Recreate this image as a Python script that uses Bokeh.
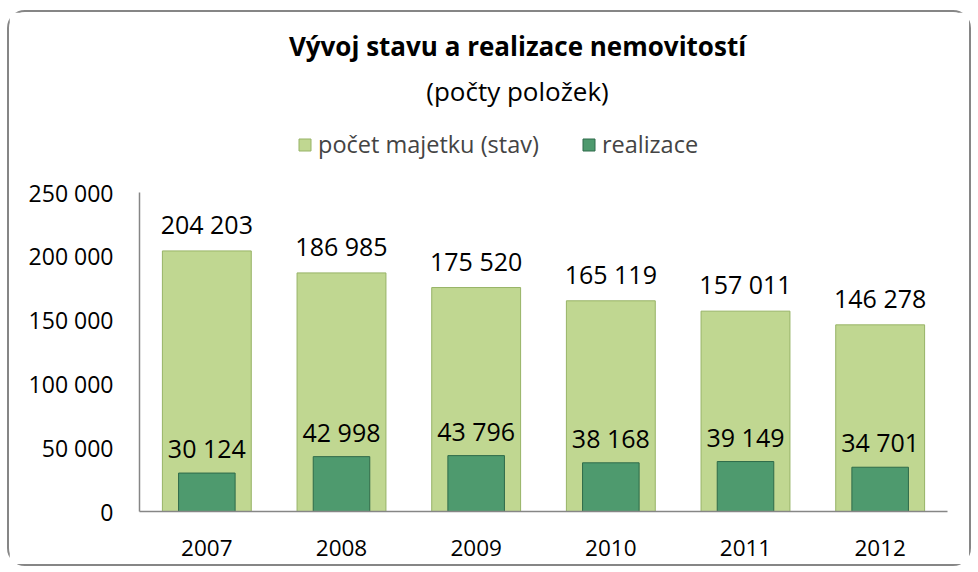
from bokeh.plotting import figure
from bokeh.models import ColumnDataSource, Legend, LegendItem, Label, LabelSet, FixedTicker, FactorRange
from bokeh.core.properties import value
from bokeh.embed import file_html
from bokeh.resources import INLINE

years = ["2007", "2008", "2009", "2010", "2011", "2012"]
stav = [204203, 186985, 175520, 165119, 157011, 146278]
realizace = [30124, 42998, 43796, 38168, 39149, 34701]
y_ticks = [0, 50000, 100000, 150000, 200000, 250000]
y_tick_labels = ["0", "50 000", "100 000", "150 000", "200 000", "250 000"]
title_text = "Vývoj stavu a realizace nemovitostí"
subtitle_text = "(počty položek)"
series_names = ["počet majetku (stav)", "realizace"]

def fmt(v):
    return f"{v:,}".replace(",", " ")

src = ColumnDataSource(dict(
    years=years, stav=stav, realizace=realizace,
    stav_lbl=[fmt(v) for v in stav], real_lbl=[fmt(v) for v in realizace],
))

FONT = "Open Sans"
W, H = 964, 556
B_LEFT, B_RIGHT, B_BOTTOM = 130, 26, 57
FRAME_H = H - B_BOTTOM
AXIS_PX = 319  # pixel height of 0..250000
y_end = y_ticks[-1] * FRAME_H / AXIS_PX

p = figure(x_range=FactorRange(*years), y_range=(0, y_end), width=W, height=H,
           output_backend="svg", toolbar_location=None, title=None,
           min_border_left=B_LEFT, min_border_right=B_RIGHT, min_border_bottom=B_BOTTOM,
           min_border_top=0)
p.styles = {"border": "2px solid #868686", "border-radius": "18px",
            "margin": "10px 0 0 7px"}
p.outline_line_color = None
p.xgrid.grid_line_color = None
p.ygrid.grid_line_color = None
p.x_range.range_padding = 0

r1 = p.vbar(x="years", top="stav", width=0.66, source=src, fill_color="#c0d791",
            line_color="#97b366", line_width=1)
r2 = p.vbar(x="years", top="realizace", width=0.42, source=src, fill_color="#4e9a6e",
            line_color="#2f6b4a", line_width=1)

p.add_layout(LabelSet(x="years", y="stav", text="stav_lbl", source=src, y_offset=10,
                      text_align="center", text_baseline="bottom", text_font=value(FONT),
                      text_font_size="25px", text_color="#000000"))
p.add_layout(LabelSet(x="years", y="realizace", text="real_lbl", source=src, y_offset=8,
                      text_align="center", text_baseline="bottom", text_font=value(FONT),
                      text_font_size="25px", text_color="#000000"))

p.yaxis.ticker = FixedTicker(ticks=y_ticks)
p.yaxis.bounds = (y_ticks[0], y_ticks[-1])
p.yaxis.major_label_overrides = {t: l for t, l in zip(y_ticks, y_tick_labels)}
for ax in (p.xaxis[0], p.yaxis[0]):
    ax.axis_line_color = "#868686"
    ax.axis_line_width = 1.5
    ax.major_tick_line_color = None
    ax.minor_tick_line_color = None
    ax.major_label_text_font = FONT
    ax.major_label_text_color = "#000000"
p.yaxis.major_label_text_font_size = "23px"
p.xaxis.major_label_text_font_size = "22.5px"
p.yaxis.major_label_standoff = 20
p.xaxis.major_label_standoff = 22

legend = Legend(items=[LegendItem(label=series_names[0], renderers=[r1]),
                       LegendItem(label=series_names[1], renderers=[r2])],
                orientation="horizontal", location=(158, 351),
                label_text_font=FONT, label_text_font_size="23.5px",
                glyph_width=15, glyph_height=15, spacing=42, label_standoff=6,
                border_line_color=None, background_fill_alpha=0, margin=0, padding=0)
p.add_layout(legend, "center")
p.add_layout(Label(x=378, y=466, x_units="screen", y_units="screen",
                   text=title_text, text_align="center",
                   text_baseline="middle", text_font=FONT, text_font_size="26px",
                   text_font_style="bold", text_color="#000000"))
p.add_layout(Label(x=378, y=421, x_units="screen", y_units="screen",
                   text=subtitle_text, text_align="center",
                   text_baseline="middle", text_font=FONT, text_font_size="26px",
                   text_color="#000000"))

open("out.html", "w").write(file_html(p, INLINE))
